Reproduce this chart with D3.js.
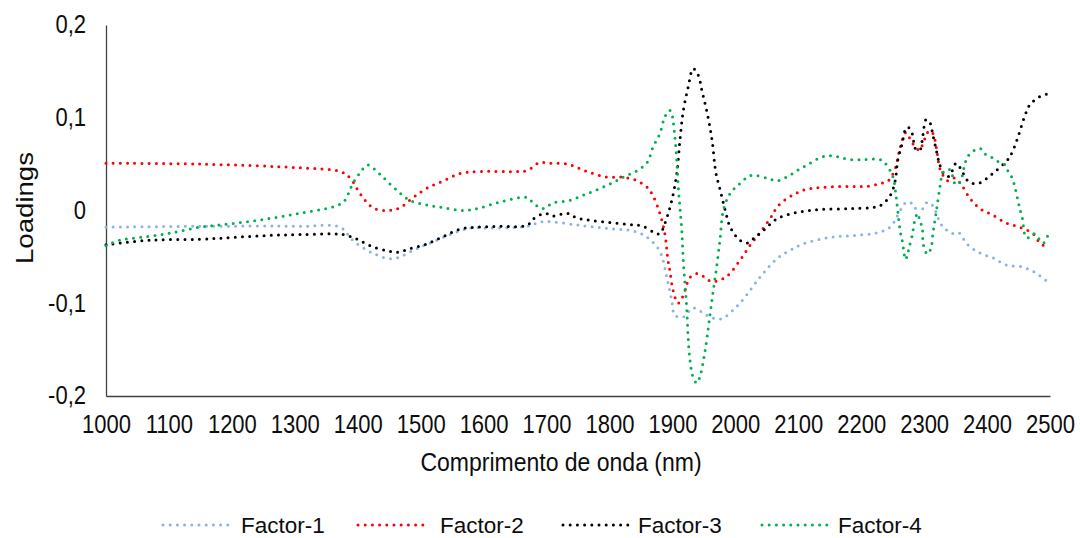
<!DOCTYPE html>
<html>
<head>
<meta charset="utf-8">
<script src="https://cdn.jsdelivr.net/npm/d3@7"></script>
<style>
  html, body { margin: 0; padding: 0; background: #ffffff; }
  svg { display: block; font-family: "Liberation Sans", Arial, sans-serif; }
</style>
</head>
<body>
<svg id="chart" width="1080" height="538"></svg>
<script>
// Loadings of the four factors across the NIR spectrum (wavelength in nm)
const seriesNames = ["Factor-1", "Factor-2", "Factor-3", "Factor-4"];
const seriesColors = ["#8db3e2", "#ff0000", "#000000", "#00b050"];

const factor1 = [
  [1000,-0.018],[1149,-0.017],[1308,-0.017],[1372,-0.018],[1392,-0.032],[1424,-0.046],
  [1456,-0.052],[1488,-0.043],[1515,-0.035],[1578,-0.019],[1610,-0.019],[1669,-0.017],
  [1694,-0.012],[1753,-0.016],[1806,-0.020],[1837,-0.022],[1860,-0.029],[1880,-0.044],
  [1891,-0.072],[1899,-0.097],[1904,-0.113],[1917,-0.115],[1933,-0.105],[1955,-0.113],
  [1976,-0.117],[2007,-0.100],[2039,-0.072],[2066,-0.052],[2087,-0.043],[2108,-0.036],
  [2150,-0.029],[2187,-0.027],[2225,-0.024],[2246,-0.018],[2262,0.000],[2270,0.008],
  [2278,0.009],[2284,0.003],[2298,0.002],[2305,0.009],[2314,0.005],[2328,-0.016],
  [2346,-0.025],[2355,-0.024],[2368,-0.036],[2389,-0.046],[2409,-0.051],[2432,-0.059],
  [2457,-0.061],[2479,-0.068],[2498,-0.078]
];

const factor2 = [
  [1000,0.051],[1149,0.050],[1308,0.046],[1372,0.042],[1388,0.035],[1404,0.018],
  [1424,0.003],[1447,0.000],[1467,0.003],[1488,0.014],[1510,0.024],[1536,0.032],
  [1563,0.040],[1590,0.042],[1653,0.042],[1669,0.043],[1690,0.052],[1701,0.051],
  [1733,0.050],[1764,0.042],[1796,0.036],[1822,0.036],[1844,0.032],[1860,0.025],
  [1869,0.016],[1880,-0.003],[1888,-0.025],[1893,-0.054],[1896,-0.065],[1901,-0.086],
  [1909,-0.100],[1917,-0.092],[1928,-0.072],[1941,-0.068],[1960,-0.076],[1971,-0.076],
  [1988,-0.070],[2007,-0.054],[2023,-0.038],[2039,-0.024],[2055,-0.009],[2068,0.005],
  [2092,0.017],[2114,0.023],[2139,0.025],[2182,0.026],[2209,0.026],[2230,0.029],
  [2243,0.032],[2254,0.045],[2262,0.068],[2271,0.084],[2281,0.073],[2293,0.065],
  [2298,0.072],[2308,0.086],[2314,0.083],[2320,0.065],[2325,0.045],[2330,0.038],
  [2338,0.032],[2349,0.035],[2360,0.027],[2373,0.013],[2389,0.002],[2409,-0.005],
  [2432,-0.014],[2452,-0.018],[2473,-0.025],[2484,-0.035],[2498,-0.041]
];

const factor3 = [
  [1000,-0.037],[1070,-0.032],[1149,-0.031],[1202,-0.029],[1256,-0.027],[1308,-0.026],
  [1377,-0.026],[1399,-0.031],[1424,-0.039],[1451,-0.044],[1464,-0.045],[1483,-0.041],
  [1510,-0.036],[1536,-0.028],[1563,-0.020],[1590,-0.018],[1626,-0.017],[1669,-0.016],
  [1679,-0.009],[1698,-0.003],[1710,-0.006],[1733,-0.003],[1748,-0.008],[1774,-0.011],
  [1828,-0.015],[1853,-0.017],[1872,-0.024],[1880,-0.025],[1888,-0.014],[1899,0.011],
  [1907,0.040],[1912,0.076],[1917,0.106],[1925,0.133],[1933,0.153],[1941,0.146],
  [1947,0.129],[1955,0.106],[1963,0.076],[1969,0.041],[1976,0.022],[1984,0.000],
  [1992,-0.018],[2007,-0.032],[2019,-0.035],[2031,-0.029],[2044,-0.022],[2066,-0.009],
  [2098,-0.002],[2135,0.001],[2182,0.002],[2214,0.003],[2230,0.005],[2246,0.016],
  [2254,0.032],[2258,0.054],[2265,0.072],[2270,0.087],[2274,0.090],[2281,0.083],
  [2286,0.067],[2293,0.065],[2298,0.081],[2303,0.098],[2309,0.095],[2314,0.081],
  [2320,0.063],[2325,0.049],[2333,0.038],[2340,0.037],[2351,0.051],[2362,0.040],
  [2368,0.033],[2378,0.029],[2389,0.030],[2409,0.040],[2432,0.054],[2440,0.063],
  [2449,0.079],[2460,0.102],[2468,0.114],[2484,0.123],[2498,0.126]
];

const factor4 = [
  [1000,-0.038],[1022,-0.032],[1054,-0.029],[1097,-0.025],[1149,-0.018],[1202,-0.014],
  [1256,-0.009],[1308,-0.003],[1361,0.004],[1377,0.009],[1385,0.018],[1392,0.029],
  [1404,0.041],[1415,0.049],[1424,0.046],[1440,0.036],[1462,0.022],[1483,0.011],
  [1510,0.006],[1536,0.003],[1567,0.000],[1590,0.002],[1626,0.009],[1669,0.014],
  [1679,0.008],[1694,0.002],[1710,0.008],[1737,0.011],[1764,0.018],[1796,0.027],
  [1822,0.036],[1844,0.043],[1860,0.052],[1869,0.068],[1880,0.083],[1888,0.101],
  [1895,0.108],[1898,0.107],[1901,0.097],[1904,0.079],[1907,0.054],[1909,0.029],
  [1912,0.003],[1915,-0.022],[1917,-0.051],[1920,-0.079],[1923,-0.108],[1925,-0.137],
  [1928,-0.162],[1933,-0.180],[1939,-0.186],[1945,-0.176],[1950,-0.159],[1955,-0.137],
  [1960,-0.111],[1965,-0.086],[1971,-0.057],[1976,-0.029],[1980,-0.003],[1988,0.014],
  [1996,0.022],[2007,0.029],[2019,0.036],[2028,0.038],[2050,0.035],[2066,0.032],
  [2084,0.037],[2103,0.045],[2119,0.051],[2135,0.057],[2147,0.059],[2162,0.058],
  [2182,0.055],[2206,0.055],[2230,0.055],[2238,0.051],[2246,0.043],[2251,0.035],
  [2255,0.018],[2258,0.000],[2262,-0.022],[2265,-0.032],[2268,-0.045],[2270,-0.053],
  [2273,-0.049],[2276,-0.040],[2281,-0.027],[2286,-0.008],[2290,-0.003],[2293,-0.011],
  [2297,-0.018],[2298,-0.032],[2301,-0.043],[2306,-0.047],[2311,-0.040],[2314,-0.025],
  [2317,-0.011],[2320,0.002],[2325,0.025],[2330,0.041],[2336,0.044],[2341,0.044],
  [2344,0.040],[2349,0.029],[2354,0.028],[2360,0.036],[2365,0.051],[2370,0.059],
  [2378,0.064],[2389,0.067],[2397,0.061],[2408,0.057],[2417,0.053],[2429,0.049],
  [2433,0.043],[2440,0.035],[2444,0.026],[2449,0.011],[2452,0.002],[2456,-0.008],
  [2462,-0.029],[2468,-0.029],[2476,-0.025],[2484,-0.032],[2490,-0.035],[2497,-0.026]
];

const xTicks = [1000,1100,1200,1300,1400,1500,1600,1700,1800,1900,2000,2100,2200,2300,2400,2500];
const yTicks = [-0.2,-0.1,0,0.1,0.2];
const xTitle = "Comprimento de onda (nm)";
const yTitle = "Loadings";

const allSeries = [factor1, factor2, factor3, factor4];

const svg = d3.select("#chart");

const x = d3.scaleLinear().domain([1000, 2500]).range([106, 1050]);
const y = d3.scaleLinear().domain([-0.2, 0.2]).range([396, 25]);

const locale = d3.formatLocale({decimal: ",", thousands: ".", grouping: [3], currency: ["", ""], minus: "-"});
const fmt1 = locale.format(".1f");
const yFmt = v => (Math.abs(v) < 1e-9 ? "0" : fmt1(v));

const axisColor = "#404040";
const textColor = "#0d0d0d";
const tickFont = 22;
const stretch = 1.13; // glyphs are drawn slightly taller than wide

// y axis: line only, no tick marks
const yAxis = d3.axisLeft(y).tickValues(yTicks).tickFormat(yFmt).tickSize(0).tickPadding(20);
const gy = svg.append("g").attr("transform", "translate(106,0)").call(yAxis);
gy.select(".domain").attr("stroke", axisColor).attr("stroke-width", 1.3);
gy.selectAll("text")
  .attr("font-size", tickFont).attr("fill", textColor)
  .attr("font-family", "'Liberation Sans', Arial, sans-serif")
  .attr("transform", `scale(1,${stretch})`);

// x axis along the bottom
const xAxis = d3.axisBottom(x).tickValues(xTicks).tickFormat(d3.format("d")).tickSize(0).tickPadding(20);
const gx = svg.append("g").attr("transform", "translate(0,396)").call(xAxis);
gx.select(".domain").attr("stroke", axisColor).attr("stroke-width", 1.3);
gx.selectAll("text")
  .attr("font-size", tickFont).attr("fill", textColor)
  .attr("font-family", "'Liberation Sans', Arial, sans-serif")
  .attr("transform", `translate(0,28) scale(1,${stretch}) translate(0,-28)`);

// axis titles
svg.append("text")
  .attr("transform", `translate(561,471) scale(1,${stretch})`)
  .attr("text-anchor", "middle").attr("font-size", 23).attr("fill", textColor)
  .text(xTitle);
svg.append("text")
  .attr("transform", `translate(33,208) rotate(-90) scale(1.2,1)`)
  .attr("text-anchor", "middle").attr("font-size", 23).attr("fill", textColor)
  .text(yTitle);

// dotted smoothed lines
const line = d3.line()
  .x(d => x(d[0]))
  .y(d => y(d[1]))
  .curve(d3.curveCatmullRom.alpha(0.5));

const dash = "0 7.2";
const dotWidth = 3;

svg.append("g").selectAll("path")
  .data(allSeries)
  .join("path")
  .attr("d", line)
  .attr("fill", "none")
  .attr("stroke", (d, i) => seriesColors[i])
  .attr("stroke-width", dotWidth)
  .attr("stroke-linecap", "round")
  .attr("stroke-dasharray", dash);

// legend
const legendItems = [
  {lineX: 163, textX: 241},
  {lineX: 358, textX: 440},
  {lineX: 563, textX: 638},
  {lineX: 762, textX: 838}
];
const legendY = 525;
const lg = svg.append("g");
seriesNames.forEach((name, i) => {
  const it = legendItems[i];
  lg.append("line")
    .attr("x1", it.lineX).attr("x2", it.lineX + 65)
    .attr("y1", legendY).attr("y2", legendY)
    .attr("stroke", seriesColors[i]).attr("stroke-width", dotWidth)
    .attr("stroke-linecap", "round").attr("stroke-dasharray", dash);
  lg.append("text")
    .attr("x", it.textX).attr("y", legendY + 8)
    .attr("font-size", 22.5).attr("fill", textColor)
    .text(name);
});
</script>
</body>
</html>
